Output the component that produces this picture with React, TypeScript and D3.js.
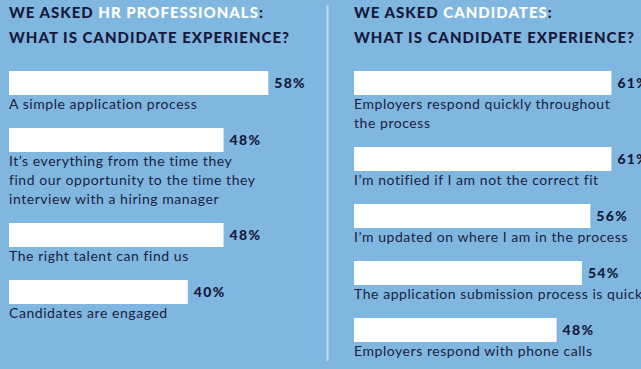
import * as React from 'react';
import * as d3 from 'd3';

const width = 641;
const height = 369;

const hrTitle = ['WE ASKED ', 'HR PROFESSIONALS', ':'];
const hrAnswers = [
  'A simple application process',
  'It’s everything from the time they\nfind our opportunity to the time they\ninterview with a hiring manager',
  'The right talent can find us',
  'Candidates are engaged',
];
const hrValues = [58, 48, 48, 40];

const candTitle = ['WE ASKED ', 'CANDIDATES', ':'];
const candAnswers = [
  'Employers respond quickly throughout\nthe process',
  'I’m notified if I am not the correct fit',
  'I’m updated on where I am in the process',
  'The application submission process is quick',
  'Employers respond with phone calls',
];
const candValues = [61, 61, 56, 54, 48];

const subtitle = 'WHAT IS CANDIDATE EXPERIENCE?';

const BG = '#80b7e1';
const DARK = '#151939';
const TEXT = '#1b2140';

type Panel = {
  x0: number;
  pxPerPct: number;
  title: string[];
  answers: string[];
  values: number[];
};

export default function App() {
  const svgRef = React.useRef<SVGSVGElement>(null);

  React.useEffect(() => {
    if (!svgRef.current) return;
    const svg = d3.select(svgRef.current);
    svg.selectAll('*').remove();

    svg.append('rect').attr('width', width).attr('height', height).attr('fill', BG);

    // divider
    svg
      .append('line')
      .attr('x1', 327.5)
      .attr('x2', 327.5)
      .attr('y1', 5)
      .attr('y2', 361)
      .attr('stroke', '#bcd9f1')
      .attr('stroke-width', 2);

    const panels: Panel[] = [
      { x0: 9, pxPerPct: 4.47, title: hrTitle, answers: hrAnswers, values: hrValues },
      { x0: 354, pxPerPct: 4.22, title: candTitle, answers: candAnswers, values: candValues },
    ];

    const barH = 24;
    const lineH = 19;

    panels.forEach((p) => {
      const g = svg.append('g');
      const x = d3.scaleLinear().domain([0, 100]).range([p.x0, p.x0 + 100 * p.pxPerPct]);

      const titleStyle = (sel: any) =>
        sel
          .style('font-family', 'Lato')
          .style('font-weight', 900)
          .style('font-size', '15px')
          .style('letter-spacing', '1px')
          .attr('fill', DARK);

      const t = g.append('text').attr('x', p.x0).attr('y', 18).call(titleStyle);
      p.title.forEach((s, i) => {
        t.append('tspan').text(s).attr('fill', i === 1 ? '#ffffff' : DARK);
      });
      g.append('text').attr('x', p.x0).attr('y', 43).call(titleStyle).text(subtitle);

      // cumulative bar positions from label line counts
      const lines = p.answers.map((a) => a.split('\n'));
      const tops: number[] = [];
      let y = 71;
      lines.forEach((l) => {
        tops.push(y);
        y += 57 + (l.length - 1) * lineH;
      });

      p.values.forEach((v, i) => {
        const top = tops[i];
        g.append('rect')
          .attr('x', x(0))
          .attr('y', top)
          .attr('width', x(v) - x(0))
          .attr('height', barH)
          .attr('fill', '#ffffff');
        g.append('text')
          .attr('x', x(v) + 6)
          .attr('y', top + 17)
          .style('font-family', 'Lato')
          .style('font-weight', 900)
          .style('font-size', '14px')
          .style('letter-spacing', '1.3px')
          .attr('fill', DARK)
          .text(`${v}%`);
        const lt = g
          .append('text')
          .attr('y', top + barH + 14)
          .style('font-family', 'Lato')
          .style('font-size', '14px')
          .style('letter-spacing', '0.55px')
          .attr('fill', TEXT);
        lines[i].forEach((s, j) => {
          lt.append('tspan')
            .attr('x', x(0))
            .attr('dy', j === 0 ? 0 : lineH)
            .text(s);
        });
      });
    });
  }, []);

  return (
    <svg
      ref={svgRef}
      width={width}
      height={height}
      style={{ position: 'absolute', left: 0, top: 0, display: 'block' }}
    />
  );
}
